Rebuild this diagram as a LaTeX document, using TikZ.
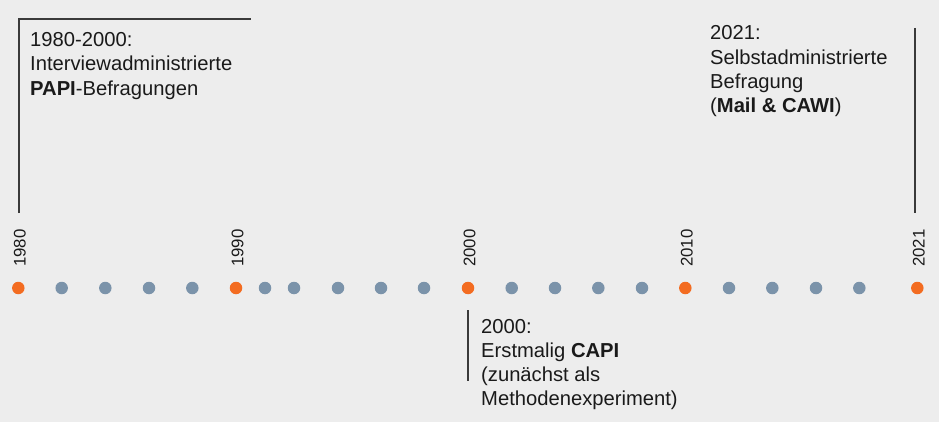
\documentclass[tikz,border=0pt]{standalone}
\usepackage{fontspec}
\setmainfont{Liberation Sans}
\definecolor{bg}{HTML}{EDEDED}
\definecolor{orangedot}{HTML}{F36C21}
\definecolor{bluedot}{HTML}{7B93AA}
\definecolor{txt}{HTML}{1A1A1A}
\definecolor{linecol}{HTML}{3A3A3A}
\begin{document}
\begin{tikzpicture}[x=1pt,y=-1pt,
  mainev/.style={circle, fill=orangedot, minimum size=12.5pt, inner sep=0pt},
  minorev/.style={circle, fill=bluedot, minimum size=12.5pt, inner sep=0pt},
  yearlbl/.style={rotate=90, anchor=west, inner sep=0pt, text=txt, font=\fontsize{16.8}{20}\selectfont},
  desc/.style={anchor=base west, inner sep=0pt, text=txt},
  bracket/.style={draw=linecol, line width=1.2pt}]
\fill[bg] (0,0) rectangle (939,422);
\useasboundingbox (0,0) rectangle (939,422);
% main events
\foreach \x/\y in {18.3/1980, 236/1990, 468/2000, 685.3/2010, 917.3/2021}{
  \node[mainev] (d\y) at (\x,288) {};
  \node[yearlbl] (l\y) at (\x+1.5,267) {\y};
}
% minor ticks
\foreach \x [count=\i] in {61.7,105.3,149,192.3,265,294,338,381,424,511.7,555,598.3,642,729,772.3,816,859.3}{
  \node[minorev] (g\i) at (\x,288) {};
}
% descriptions
\newcommand{\desctext}[1]{\parbox[t]{300pt}{\raggedright\fontsize{20.2}{24.2}\selectfont #1}}
\node[desc] (t1) at (30,46.7) {\desctext{1980-2000:\\Interviewadministrierte\\\textbf{PAPI}-Befragungen}};
\node[desc] (t2) at (710,40) {\desctext{2021:\\Selbstadministrierte\\Befragung\\(\textbf{Mail \& CAWI})}};
\node[desc] (t3) at (481,333) {\desctext{2000:\\Erstmalig \textbf{CAPI}\\(zunächst als\\Methodenexperiment)}};
% brackets
\coordinate (b1s) at (19,213);
\coordinate (b1c) at (19,19);
\coordinate (b1e) at (251,19);
\draw[bracket] (b1s) -- (b1c) -- (b1e);
\coordinate (b2s) at (915,28);
\coordinate (b2e) at (915,213);
\draw[bracket] (b2s) -- (b2e);
\coordinate (b3s) at (468,310);
\coordinate (b3e) at (468,381);
\draw[bracket] (b3s) -- (b3e);
\end{tikzpicture}
\end{document}
